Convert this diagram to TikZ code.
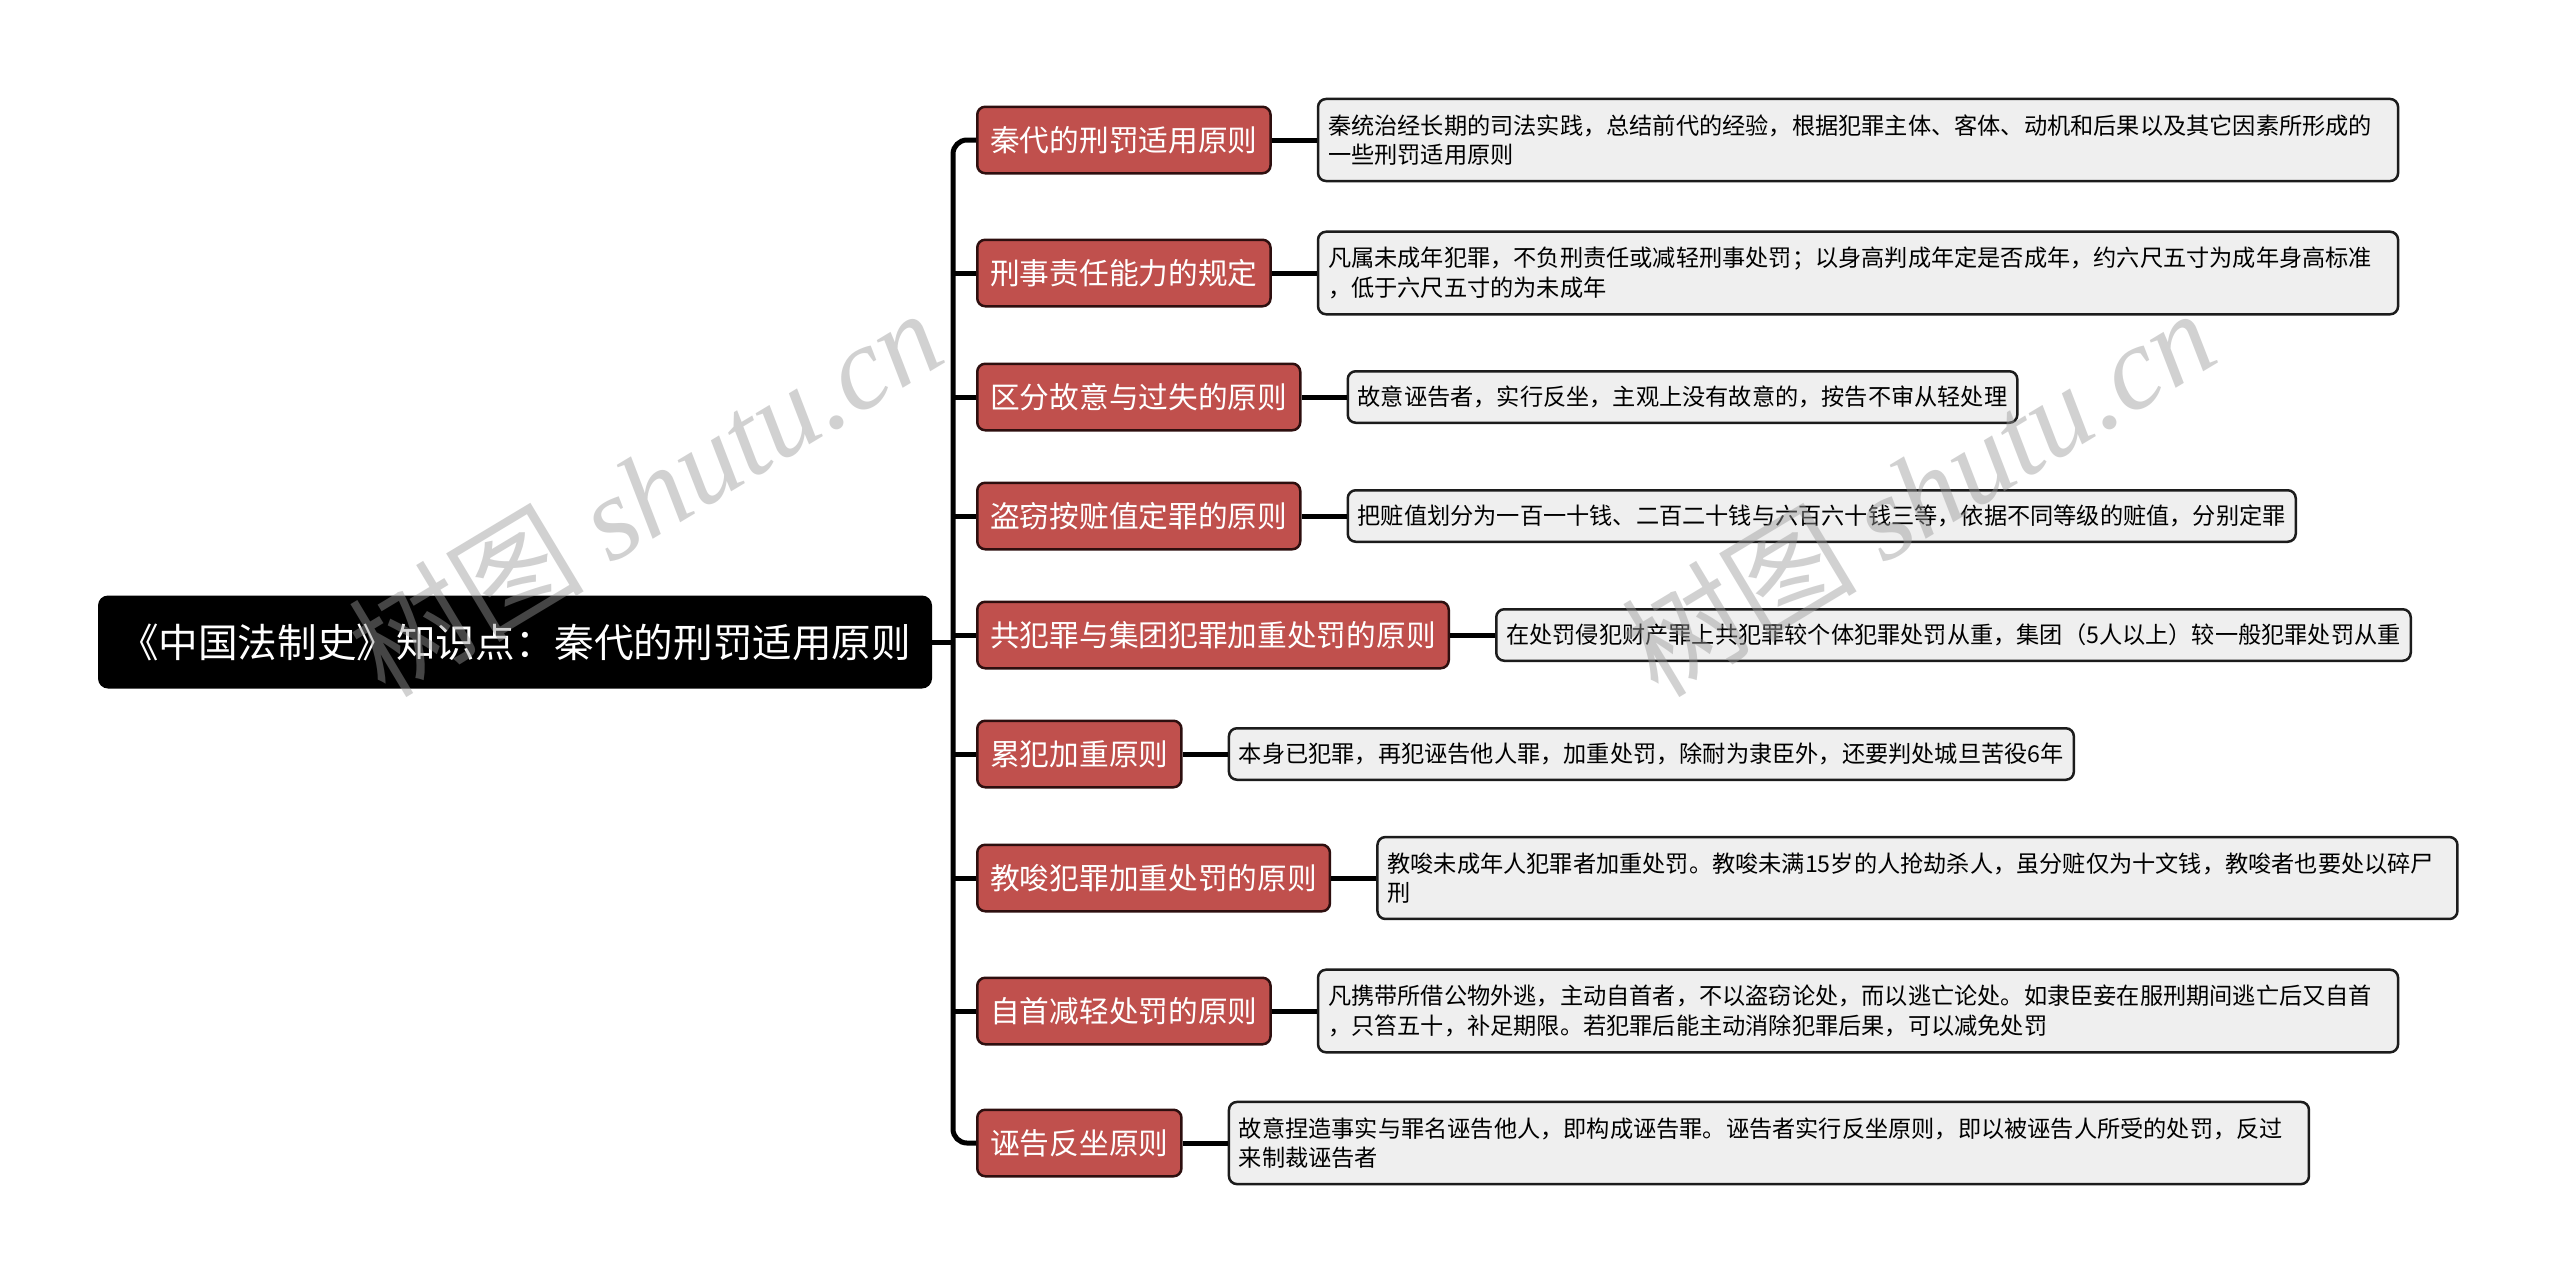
\documentclass[tikz,border=0pt]{standalone}
\usepackage{fontspec}
\setmainfont{Noto Sans CJK SC}
\newfontfamily\markfont{Liberation Serif}
\usepackage{tikz}
\usetikzlibrary{positioning}

\definecolor{branchred}{HTML}{C0504D}
\definecolor{branchline}{HTML}{2E0F0F}
\definecolor{leafgray}{HTML}{EFEFEF}
\definecolor{leafline}{HTML}{1C1C1C}
\definecolor{markgray}{HTML}{9A9A9A}

\begin{document}
\begin{tikzpicture}[x=1pt,y=-1pt,
  root/.style={fill=black,rounded corners=10pt,text=white,inner xsep=21pt,minimum height=93pt,
    font=\fontsize{39.6pt}{48pt}\selectfont,text height=34.8pt,text depth=4.8pt},
  branch/.style={draw=branchline,line width=2.5pt,fill=branchred,rounded corners=8pt,text=white,
    inner xsep=13pt,minimum height=66.5pt,font=\fontsize{29.7pt}{36pt}\selectfont,
    text height=26.1pt,text depth=3.6pt,anchor=west},
  leaf/.style={draw=leafline,line width=2.5pt,fill=leafgray,rounded corners=8pt,
    inner xsep=10pt,inner ysep=15.5pt,font=\fontsize{23.2pt}{29.4pt}\selectfont},
  leafone/.style={leaf,inner ysep=13.5pt,minimum height=51.5pt,text height=20.4pt,text depth=2.8pt},
  leaftwo/.style={leaf,text width=1060pt,align=left},
  conn/.style={draw=black,line width=5pt},
  wmark/.style={rotate=31,text=markgray,opacity=0.45,inner sep=0pt,anchor=base west,
    font=\fontsize{118pt}{118pt}\selectfont}]
\fill[white] (0,0) rectangle (2560,1285);
\useasboundingbox (0,0) rectangle (2560,1285);

% root and main branches
\node[root] (root) at (515,642) {《中国法制史》知识点：秦代的刑罚适用原则};
\coordinate (trunk) at (953,0);

\node[branch] (b1) at (976,140) {秦代的刑罚适用原则};
\node[branch] (b2) at (976,273) {刑事责任能力的规定};
\node[branch] (b3) at (976,397) {区分故意与过失的原则};
\node[branch] (b4) at (976,516) {盗窃按赃值定罪的原则};
\node[branch] (b5) at (976,635) {共犯罪与集团犯罪加重处罚的原则};
\node[branch] (b6) at (976,754) {累犯加重原则};
\node[branch] (b7) at (976,878) {教唆犯罪加重处罚的原则};
\node[branch] (b8) at (976,1011) {自首减轻处罚的原则};
\node[branch] (b9) at (976,1143) {诬告反坐原则};

% explanations
\node[leaftwo,right=45pt of b1] (l1) {秦统治经长期的司法实践，总结前代的经验，根据犯罪主体、客体、动机和后果以及其它因素所形成的\\一些刑罚适用原则};
\node[leaftwo,right=45pt of b2] (l2) {凡属未成年犯罪，不负刑责任或减轻刑事处罚；以身高判成年定是否成年，约六尺五寸为成年身高标准\\，低于六尺五寸的为未成年};
\node[leafone,right=45pt of b3] (l3) {故意诬告者，实行反坐，主观上没有故意的，按告不审从轻处理};
\node[leafone,right=45pt of b4] (l4) {把赃值划分为一百一十钱、二百二十钱与六百六十钱三等，依据不同等级的赃值，分别定罪};
\node[leafone,right=45pt of b5] (l5) {在处罚侵犯财产罪上共犯罪较个体犯罪处罚从重，集团（5人以上）较一般犯罪处罚从重};
\node[leafone,right=45pt of b6] (l6) {本身已犯罪，再犯诬告他人罪，加重处罚，除耐为隶臣外，还要判处城旦苦役6年};
\node[leaftwo,right=45pt of b7] (l7) {教唆未成年人犯罪者加重处罚。教唆未满15岁的人抢劫杀人，虽分赃仅为十文钱，教唆者也要处以碎尸\\刑};
\node[leaftwo,right=45pt of b8] (l8) {凡携带所借公物外逃，主动自首者，不以盗窃论处，而以逃亡论处。如隶臣妾在服刑期间逃亡后又自首\\，只笞五十，补足期限。若犯罪后能主动消除犯罪后果，可以减免处罚};
\node[leaftwo,right=45pt of b9] (l9) {故意捏造事实与罪名诬告他人，即构成诬告罪。诬告者实行反坐原则，即以被诬告人所受的处罚，反过\\来制裁诬告者};

% connectors
\draw[conn] (root.east) -- (trunk |- root.east);
\draw[conn,rounded corners=14pt] (b1.west) -| (trunk |- b9.west) -- (b9.west);
\foreach \i in {2,...,8}
  \draw[conn] (trunk |- b\i.west) -- (b\i.west);
\foreach \i in {1,...,9}
  \draw[conn] (b\i.east) -- (l\i.west);

% watermark
\node[wmark] (markL) at (385,700) {树图 {\markfont\itshape shutu.cn}};
\node[wmark] (markR) at (1658,700) {树图 {\markfont\itshape shutu.cn}};
\end{tikzpicture}
\end{document}
